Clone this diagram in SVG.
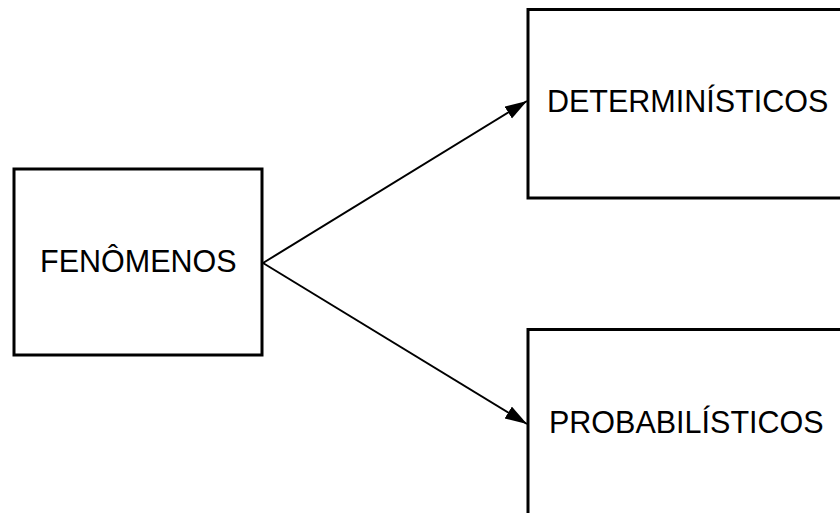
<svg xmlns="http://www.w3.org/2000/svg" width="840" height="513" viewBox="0 0 840 513">
<style>
.box{fill:#fff;stroke:#000;stroke-width:3}
.lbl{font-family:"Liberation Sans",Arial,sans-serif;font-size:30.5px;fill:#000}
.edge{stroke:#000;stroke-width:2;fill:none}
</style>
<defs>
<marker id="ah" markerUnits="userSpaceOnUse" markerWidth="24" markerHeight="16" refX="22" refY="7" orient="auto">
<path d="M0,0 L22,7 L0,14 z" fill="#000"/>
</marker>
</defs>
<rect width="840" height="513" fill="#fff"/>
<g id="connectors">
<line class="edge" x1="263" y1="263" x2="527" y2="101" marker-end="url(#ah)"/>
<line class="edge" x1="263" y1="263" x2="527" y2="424" marker-end="url(#ah)"/>
</g>
<g id="fenomenos">
<rect class="box" x="14" y="169" width="248" height="186"/>
<text class="lbl" x="40" y="272">FENÔMENOS</text>
</g>
<g id="deterministicos">
<rect class="box" x="528" y="9.5" width="330" height="188.5"/>
<text class="lbl" x="547" y="112">DETERMINÍSTICOS</text>
</g>
<g id="probabilisticos">
<rect class="box" x="528" y="329.5" width="330" height="200"/>
<text class="lbl" x="549" y="433">PROBABILÍSTICOS</text>
</g>
</svg>
